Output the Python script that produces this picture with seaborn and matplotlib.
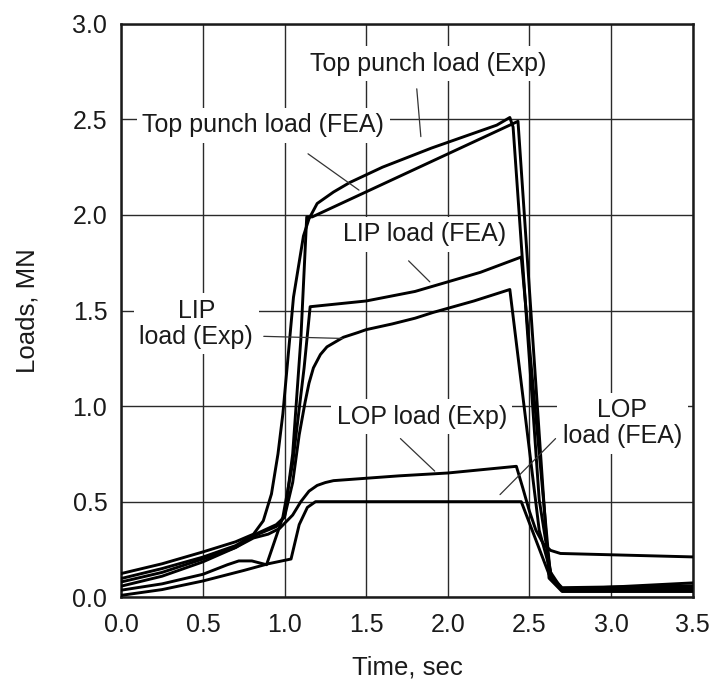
import pandas as pd
import matplotlib
matplotlib.use("Agg")
import matplotlib.pyplot as plt
import seaborn as sns

# values (time in sec, load in MN)
top_exp_t = [0.0, 0.25, 0.5, 0.7, 0.81, 0.87, 0.92, 0.96, 0.99, 1.055, 1.116, 1.15, 1.2, 1.3,
             1.4, 1.5, 1.6, 1.75, 1.9, 2.0, 2.1, 2.2, 2.3, 2.38, 2.40, 2.56, 2.63, 2.70, 3.5]
top_exp_load = [0.124, 0.175, 0.237, 0.29, 0.33, 0.40, 0.54, 0.75, 0.96, 1.57, 1.89, 1.98, 2.06, 2.12,
                2.17, 2.21, 2.25, 2.30, 2.35, 2.38, 2.41, 2.44, 2.47, 2.51, 2.46, 0.51, 0.13, 0.04, 0.05]

top_fea_t = [0.0, 0.25, 0.5, 0.7, 0.81, 0.95, 1.0, 1.05, 1.1, 1.136, 1.17, 2.43, 2.62, 2.70, 3.5]
top_fea_load = [0.08, 0.13, 0.20, 0.26, 0.32, 0.37, 0.42, 0.75, 1.35, 1.99, 1.99, 2.49, 0.10, 0.03, 0.03]

lip_exp_t = [0.0, 0.25, 0.5, 0.7, 0.81, 0.95, 1.0, 1.05, 1.09, 1.126, 1.15, 1.177, 1.22, 1.26, 1.3,
             1.36, 1.45, 1.5, 1.66, 1.8, 1.91, 2.16, 2.38, 2.56, 2.64, 2.70, 3.5]
lip_exp_load = [0.098, 0.15, 0.21, 0.27, 0.325, 0.38, 0.42, 0.6, 0.85, 1.02, 1.12, 1.20, 1.27, 1.31, 1.33,
                1.36, 1.385, 1.40, 1.43, 1.46, 1.49, 1.55, 1.61, 0.35, 0.10, 0.04, 0.075]

lip_fea_t = [0.0, 0.25, 0.5, 0.65, 0.72, 0.8, 0.89, 0.99, 1.05, 1.12, 1.157, 1.5, 1.8,
             2.0, 2.2, 2.45, 2.63, 2.70, 3.5]
lip_fea_load = [0.037, 0.07, 0.12, 0.17, 0.19, 0.19, 0.17, 0.42, 0.70, 1.20, 1.52, 1.55, 1.60,
                1.65, 1.70, 1.78, 0.10, 0.035, 0.04]

lop_exp_t = [0.0, 0.25, 0.5, 0.7, 0.81, 0.9, 0.97, 1.05, 1.1, 1.15, 1.2, 1.25, 1.3, 1.7, 2.0, 2.42,
             2.46, 2.50, 2.54, 2.585, 2.63, 2.69, 3.5]
lop_exp_load = [0.058, 0.11, 0.185, 0.26, 0.31, 0.33, 0.36, 0.43, 0.50, 0.555, 0.585, 0.60, 0.61,
                0.635, 0.65, 0.685, 0.57, 0.45, 0.35, 0.28, 0.245, 0.229, 0.211]

lop_fea_t = [0.0, 0.25, 0.5, 0.75, 0.9, 1.04, 1.09, 1.14, 1.19, 2.45, 2.62, 2.70, 3.5]
lop_fea_load = [0.01, 0.04, 0.085, 0.14, 0.175, 0.20, 0.38, 0.47, 0.50, 0.50, 0.12, 0.05, 0.06]

series = {
    "Top punch load (Exp)": (top_exp_t, top_exp_load),
    "Top punch load (FEA)": (top_fea_t, top_fea_load),
    "LIP load (Exp)": (lip_exp_t, lip_exp_load),
    "LIP load (FEA)": (lip_fea_t, lip_fea_load),
    "LOP load (Exp)": (lop_exp_t, lop_exp_load),
    "LOP load (FEA)": (lop_fea_t, lop_fea_load),
}
frames = [pd.DataFrame({"time": t, "load": v, "curve": name}) for name, (t, v) in series.items()]
df = pd.concat(frames, ignore_index=True)

sns.set_style("whitegrid")
plt.rcParams["font.family"] = ["Liberation Sans", "DejaVu Sans"]

fig, ax = plt.subplots(figsize=(7.09, 6.81), dpi=100)
fig.subplots_adjust(left=0.171, right=0.977, top=0.965, bottom=0.123)

sns.lineplot(data=df, x="time", y="load", hue="curve", units="curve", estimator=None,
             sort=False, palette=["black"] * 6, linewidth=2.1, legend=False, ax=ax, zorder=4)

ax.set_xlim(0, 3.5)
ax.set_ylim(0, 3.0)
ax.set_xticks([0.0, 0.5, 1.0, 1.5, 2.0, 2.5, 3.0, 3.5])
ax.set_yticks([0.0, 0.5, 1.0, 1.5, 2.0, 2.5, 3.0])
ax.xaxis.set_major_formatter(matplotlib.ticker.FormatStrFormatter("%.1f"))
ax.yaxis.set_major_formatter(matplotlib.ticker.FormatStrFormatter("%.1f"))
ax.tick_params(length=0, labelsize=18, labelcolor="#1a1a1a")
ax.tick_params(axis="y", pad=10)
ax.tick_params(axis="x", pad=11)
ax.grid(True, color="#2a2a2a", linewidth=1.0)
for s in ax.spines.values():
    s.set_edgecolor("#1a1a1a")
    s.set_linewidth(1.8)

ax.set_xlabel("Time, sec", fontsize=18.5, color="#1a1a1a", labelpad=14)
ax.set_ylabel("Loads, MN", fontsize=18.5, color="#1a1a1a", labelpad=24)

# curve labels with white boxes that break the grid
labels = [
    ("Top punch load (Exp)", 1.88, 2.79),
    ("Top punch load (FEA)", 0.87, 2.47),
    ("LIP load (FEA)", 1.86, 1.90),
    ("LIP\nload (Exp)", 0.46, 1.43),
    ("LOP load (Exp)", 1.84, 0.945),
    ("LOP\nload (FEA)", 3.07, 0.91),
]
for txt, x, y in labels:
    ax.text(x, y, txt, ha="center", va="center", fontsize=18, color="#1a1a1a",
            linespacing=1.1, zorder=3,
            bbox=dict(facecolor="white", edgecolor="none", pad=4))

leaders = [
    ((1.81, 1.835), (2.66, 2.41)),
    ((1.144, 1.456), (2.32, 2.13)),
    ((1.76, 1.89), (1.76, 1.65)),
    ((0.873, 1.354), (1.365, 1.354)),
    ((1.71, 1.92), (0.83, 0.66)),
    ((2.66, 2.32), (0.83, 0.537)),
]
for xs, ys in leaders:
    ax.plot(xs, ys, color="#333333", linewidth=0.9, zorder=4)

fig.savefig("out.png", dpi=100)
